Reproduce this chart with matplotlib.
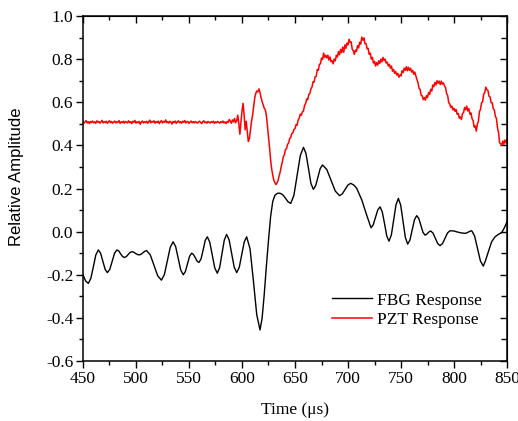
import matplotlib
matplotlib.use('Agg')
import matplotlib.pyplot as plt
from matplotlib.ticker import MultipleLocator
import numpy as np

plt.rcParams['font.family'] = 'Liberation Serif'
plt.rcParams['axes.unicode_minus'] = False

# FBG response: time (us) and relative amplitude
fbg_t = [450, 452.5, 455, 457.4, 459.8, 462.1, 464.5, 466.6, 468.8, 470.9,
         473, 475.3, 477.5, 479.8, 482, 483.8, 485.5, 487.3, 489, 490.8,
         492.5, 494.3, 496, 497.8, 499.5, 501.3, 503, 504.8, 506.5, 508.3,
         510, 513.5, 517, 520.5, 524, 526.8, 529.5, 532.3, 535, 537.4,
         539.8, 542.2, 544.6, 546.6, 548.6, 550.5, 552.5, 554.2, 556, 557.7,
         559.4, 561.4, 563.4, 565.3, 567.3, 569.6, 572, 574.3, 576.7, 578.9,
         581.1, 583.3, 585.5, 587.9, 590.3, 592.6, 595, 597.4, 599.7, 602.1,
         604.4, 607.6, 610.7, 613.9, 617, 619, 621, 623, 625, 627,
         629, 631, 633.5, 636, 638.5, 641, 643.5, 646, 649, 652,
         655, 658, 660.3, 662.7, 665, 667.3, 669.5, 671.7, 673.8, 676,
         680, 684, 688, 692, 694.6, 697.3, 699.9, 702.5, 705.5, 708.2,
         713, 717.6, 721.7, 723.8, 726, 728.1, 730.2, 732.3, 734.5, 736.6,
         738.7, 740.9, 743.1, 745.3, 747.5, 749.7, 751.9, 754.1, 756.3, 758.4,
         760.6, 762.7, 764.8, 766.8, 768.7, 770.7, 772.6, 774, 775.3, 776.7,
         778, 780.2, 782.4, 784.6, 786.8, 789.2, 791.5, 793.9, 796.2, 800,
         803.3, 807, 810.4, 812, 813.6, 815.1, 816.7, 819.4, 822.2, 824.9,
         827.6, 829.9, 832.4, 835.5, 838.7, 842, 845, 847.5, 850]
fbg_v = [-0.200, -0.229, -0.240, -0.217, -0.163, -0.108, -0.085, -0.100, -0.138, -0.175,
         -0.190, -0.175, -0.138, -0.100, -0.085, -0.090, -0.103, -0.115, -0.120, -0.116,
         -0.107, -0.097, -0.093, -0.095, -0.101, -0.106, -0.108, -0.105, -0.098, -0.091,
         -0.088, -0.108, -0.157, -0.205, -0.225, -0.199, -0.136, -0.073, -0.047, -0.069,
         -0.124, -0.178, -0.200, -0.185, -0.150, -0.115, -0.100, -0.106, -0.122, -0.137,
         -0.143, -0.126, -0.084, -0.041, -0.024, -0.049, -0.109, -0.168, -0.193, -0.167,
         -0.103, -0.039, -0.013, -0.039, -0.102, -0.164, -0.190, -0.166, -0.107, -0.048,
         -0.024, -0.080, -0.225, -0.385, -0.456, -0.400, -0.290, -0.160, -0.040, 0.070,
         0.140, 0.168, 0.178, 0.178, 0.171, 0.155, 0.138, 0.131, 0.169, 0.261,
         0.353, 0.391, 0.363, 0.294, 0.224, 0.196, 0.213, 0.253, 0.293, 0.309,
         0.288, 0.238, 0.188, 0.167, 0.175, 0.196, 0.216, 0.224, 0.216, 0.201,
         0.147, 0.077, 0.018, 0.032, 0.067, 0.101, 0.115, 0.092, 0.036, -0.021,
         -0.044, -0.015, 0.055, 0.125, 0.154, 0.123, 0.048, -0.027, -0.058, -0.039,
         0.008, 0.055, 0.074, 0.061, 0.029, -0.003, -0.016, -0.013, -0.007, 0.000,
         0.003, -0.007, -0.031, -0.055, -0.065, -0.055, -0.031, -0.006, 0.004, 0.003,
         -0.002, -0.006, -0.008, -0.006, -0.002, 0.002, 0.004, -0.020, -0.078, -0.136,
         -0.160, -0.132, -0.093, -0.047, -0.024, -0.012, -0.005, 0.018, 0.046]

# PZT response sampled every 1 us from 450 to 850 us
pzt_t = np.arange(450, 851, 1)
pzt_v = [
    0.512, 0.503, 0.509, 0.515, 0.504, 0.510, 0.501, 0.511, 0.506, 0.513,
    0.505, 0.509, 0.502, 0.514, 0.507, 0.511, 0.503, 0.508, 0.516, 0.504,
    0.510, 0.506, 0.512, 0.502, 0.509, 0.514, 0.505, 0.511, 0.503, 0.508,
    0.513, 0.504, 0.510, 0.507, 0.515, 0.502, 0.509, 0.506, 0.512, 0.503,
    0.511, 0.508, 0.504, 0.514, 0.506, 0.510, 0.501, 0.512, 0.507, 0.516,
    0.503, 0.509, 0.505, 0.511, 0.498, 0.508, 0.513, 0.504, 0.510, 0.506,
    0.512, 0.502, 0.509, 0.517, 0.505, 0.511, 0.507, 0.514, 0.503, 0.510,
    0.506, 0.513, 0.501, 0.509, 0.515, 0.504, 0.511, 0.507, 0.518, 0.505,
    0.510, 0.503, 0.512, 0.508, 0.499, 0.511, 0.506, 0.513, 0.502, 0.509,
    0.514, 0.505, 0.510, 0.503, 0.512, 0.507, 0.515, 0.504, 0.509, 0.511,
    0.502, 0.508, 0.513, 0.505, 0.510, 0.504, 0.511, 0.507, 0.503, 0.509,
    0.512, 0.506, 0.501, 0.510, 0.514, 0.505, 0.509, 0.503, 0.511, 0.507,
    0.504, 0.510, 0.506, 0.512, 0.502, 0.509, 0.505, 0.511, 0.507, 0.503,
    0.510, 0.506, 0.513, 0.504, 0.509, 0.501, 0.511, 0.507, 0.520, 0.512,
    0.503, 0.518, 0.509, 0.525, 0.505, 0.514, 0.540, 0.500, 0.452, 0.505,
    0.560, 0.595, 0.540, 0.472, 0.512, 0.462, 0.418, 0.432, 0.470, 0.512,
    0.540, 0.582, 0.620, 0.641, 0.652, 0.648, 0.662, 0.645, 0.622, 0.602,
    0.588, 0.572, 0.565, 0.538, 0.492, 0.438, 0.390, 0.332, 0.291, 0.262,
    0.238, 0.228, 0.218, 0.226, 0.236, 0.258, 0.276, 0.302, 0.322, 0.348,
    0.357, 0.380, 0.386, 0.405, 0.411, 0.432, 0.437, 0.455, 0.458, 0.474,
    0.478, 0.496, 0.494, 0.518, 0.526, 0.545, 0.540, 0.556, 0.560, 0.585,
    0.594, 0.615, 0.612, 0.636, 0.640, 0.662, 0.670, 0.695, 0.694, 0.718,
    0.720, 0.752, 0.748, 0.776, 0.778, 0.805, 0.798, 0.828, 0.808, 0.818,
    0.806, 0.818, 0.796, 0.810, 0.788, 0.792, 0.778, 0.800, 0.792, 0.818,
    0.810, 0.835, 0.820, 0.845, 0.830, 0.856, 0.832, 0.866, 0.850, 0.874,
    0.866, 0.892, 0.878, 0.880, 0.846, 0.838, 0.822, 0.842, 0.836, 0.862,
    0.852, 0.878, 0.870, 0.902, 0.888, 0.898, 0.872, 0.872, 0.848, 0.850,
    0.822, 0.828, 0.800, 0.808, 0.782, 0.790, 0.768, 0.784, 0.772, 0.792,
    0.780, 0.800, 0.788, 0.808, 0.794, 0.800, 0.782, 0.786, 0.768, 0.776,
    0.758, 0.768, 0.744, 0.752, 0.734, 0.742, 0.726, 0.734, 0.716, 0.726,
    0.722, 0.746, 0.738, 0.758, 0.748, 0.765, 0.746, 0.762, 0.748, 0.758,
    0.740, 0.748, 0.730, 0.740, 0.722, 0.705, 0.692, 0.665, 0.660, 0.632,
    0.630, 0.612, 0.622, 0.610, 0.630, 0.622, 0.645, 0.636, 0.660, 0.652,
    0.680, 0.672, 0.692, 0.680, 0.700, 0.688, 0.698, 0.682, 0.698, 0.684,
    0.690, 0.676, 0.668, 0.640, 0.632, 0.598, 0.592, 0.576, 0.582, 0.564,
    0.572, 0.558, 0.566, 0.544, 0.548, 0.526, 0.532, 0.520, 0.548, 0.552,
    0.576, 0.565, 0.582, 0.560, 0.570, 0.545, 0.550, 0.524, 0.515, 0.485,
    0.490, 0.466, 0.498, 0.512, 0.556, 0.568, 0.598, 0.602, 0.638, 0.645,
    0.670, 0.658, 0.655, 0.628, 0.625, 0.598, 0.598, 0.570, 0.565, 0.535,
    0.525, 0.482, 0.460, 0.412, 0.408, 0.400, 0.420, 0.405, 0.425, 0.412,
    0.428]

fig = plt.figure(figsize=(5.18, 4.21), dpi=100)
ax = fig.add_axes([0.1602, 0.1425, 0.8186, 0.8195])

ax.plot(fbg_t, fbg_v, color='black', lw=1.0, label='FBG Response')
ax.plot(pzt_t, pzt_v, color='red', lw=1.1, label='PZT Response')

ax.set_xlim(450, 850)
ax.set_ylim(-0.6, 1.0)
ax.xaxis.set_major_locator(MultipleLocator(50))
ax.xaxis.set_minor_locator(MultipleLocator(25))
ax.yaxis.set_major_locator(MultipleLocator(0.2))
ax.yaxis.set_minor_locator(MultipleLocator(0.1))
ax.yaxis.set_major_formatter(matplotlib.ticker.FormatStrFormatter('%.1f'))

for s in ax.spines.values():
    s.set_linewidth(1.1)

# outward ticks on bottom/left, inward mirrored ticks on top/right
ax.tick_params(which='both', direction='out', labelsize=12.5, width=1.0, pad=2)
ax.tick_params(which='major', length=5)
ax.tick_params(which='minor', length=3)
ax2 = ax.secondary_xaxis('top')
ax2.xaxis.set_major_locator(MultipleLocator(50))
ax2.xaxis.set_minor_locator(MultipleLocator(25))
ax2.tick_params(which='both', direction='in', labeltop=False, width=1.0)
ax2.tick_params(which='major', length=5)
ax2.tick_params(which='minor', length=3)
ay2 = ax.secondary_yaxis('right')
ay2.yaxis.set_major_locator(MultipleLocator(0.2))
ay2.yaxis.set_minor_locator(MultipleLocator(0.1))
ay2.tick_params(which='both', direction='in', labelright=False, width=1.0)
ay2.tick_params(which='major', length=5)
ay2.tick_params(which='minor', length=4)

ax.set_xlabel('Time (\u03bcs)', fontsize=12.5, labelpad=11)
ax.set_ylabel('Relative Amplitude', fontsize=12, family='Liberation Sans')
ax.yaxis.set_label_coords(-0.139, 0.535)

ax.legend(loc='upper left', bbox_to_anchor=(0.587, 0.199), frameon=False,
          fontsize=12.5, handlelength=2.3, handletextpad=0.3, labelspacing=0.22,
          borderpad=0, borderaxespad=0)

fig.savefig('out.png', dpi=100)
